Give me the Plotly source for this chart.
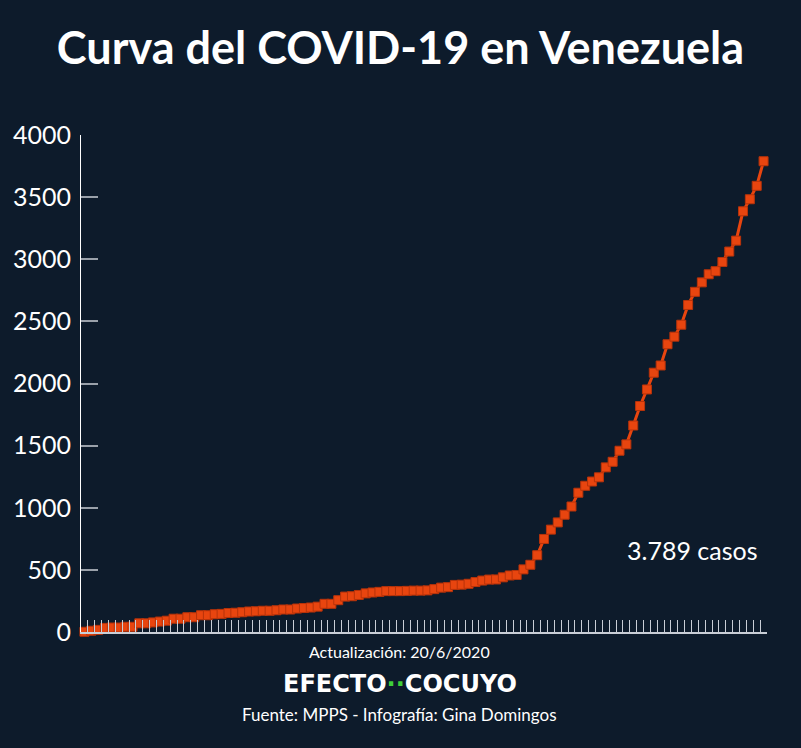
import plotly.graph_objects as go

# cumulative confirmed cases, 13/3/2020 .. 20/6/2020 (one value per day)
fechas = (
    [f"{d}/3/2020" for d in range(13, 32)]
    + [f"{d}/4/2020" for d in range(1, 31)]
    + [f"{d}/5/2020" for d in range(1, 32)]
    + [f"{d}/6/2020" for d in range(1, 21)]
)
casos = [
    2, 10, 17, 33, 36, 36, 42, 42, 70, 70, 77, 84, 91, 107, 107, 119, 119, 135, 135,
    143, 146, 153, 155, 159, 165, 167, 171, 171, 175, 181, 181, 189, 193, 197, 204,
    227, 227, 256, 285, 288, 298, 311, 318, 323, 329, 329, 329, 331, 333,
    333, 335, 345, 357, 361, 379, 381, 388, 402, 414, 422, 423, 440, 455, 459, 504,
    541, 618, 749, 824, 882, 944, 1010, 1121, 1177, 1211, 1245, 1325, 1370, 1459, 1510,
    1662, 1819, 1952, 2087, 2145, 2316, 2377, 2473, 2632, 2738, 2814, 2879, 2904, 2978,
    3062, 3150, 3386, 3483, 3591, 3789,
]
y_ticks = [0, 500, 1000, 1500, 2000, 2500, 3000, 3500, 4000]

bg = "#0d1b2b"
naranja = "#e8450f"
idx = list(range(len(casos)))

fig = go.Figure()
fig.add_trace(go.Scatter(
    x=idx, y=casos, mode="lines+markers",
    line=dict(color=naranja, width=3),
    marker=dict(symbol="square", size=9, color=naranja,
                line=dict(color="#b8330a", width=1)),
    text=fechas, hoverinfo="text+y",
    cliponaxis=False,
))

fig.update_layout(
    width=801, height=748,
    paper_bgcolor=bg, plot_bgcolor=bg,
    margin=dict(l=81, r=34, t=135, b=116),
    showlegend=False,
    font=dict(family="Lato", color="white"),
    title=dict(text="<b>Curva del COVID-19 en Venezuela</b>",
               x=0.5, xanchor="center", y=0.935, yanchor="middle",
               font=dict(size=45, family="Lato", color="white")),
    xaxis=dict(
        range=[-0.5, len(casos) - 0.5],
        tickvals=[i + 0.5 for i in idx],
        showticklabels=False,
        ticks="inside", ticklen=12, tickwidth=1, tickcolor="#c9ced6",
        showline=True, linecolor="#c9ced6", linewidth=2,
        showgrid=False, zeroline=False,
    ),
    yaxis=dict(
        range=[0, 4000],
        tickvals=y_ticks,
        ticks="inside", ticklen=17, tickwidth=2, tickcolor="#9aa1aa",
        tickfont=dict(size=25, color="white", family="Lato"),
        ticklabelstandoff=4,
        showline=True, linecolor="white", linewidth=1,
        showgrid=False, zeroline=False,
    ),
)

# footer texts are centred on the page, not on the plot area
pie_x = 0.465
fig.add_annotation(text="3.789 casos", x=0.892, xref="paper", xanchor="center",
                   y=660, yref="y", yanchor="middle",
                   showarrow=False, font=dict(size=25, color="white"))
fig.add_annotation(text="Actualización: 20/6/2020", x=pie_x, xref="paper",
                   y=-0.04, yref="paper", yanchor="middle", showarrow=False,
                   font=dict(size=16, color="white"))
fig.add_annotation(text="<b>EFECTO<span style='color:#3ecf3a'>··</span>COCUYO</b>",
                   x=pie_x, xref="paper", y=-0.105, yref="paper", yanchor="middle",
                   showarrow=False,
                   font=dict(size=24, color="white", family="DejaVu Sans"))
fig.add_annotation(text="Fuente: MPPS - Infografía: Gina Domingos", x=pie_x, xref="paper",
                   y=-0.167, yref="paper", yanchor="middle", showarrow=False,
                   font=dict(size=17, color="white"))

fig.write_html("out.html", config={"displayModeBar": False},
               post_script="document.body.style.margin='0';document.body.style.background='%s';" % bg)
